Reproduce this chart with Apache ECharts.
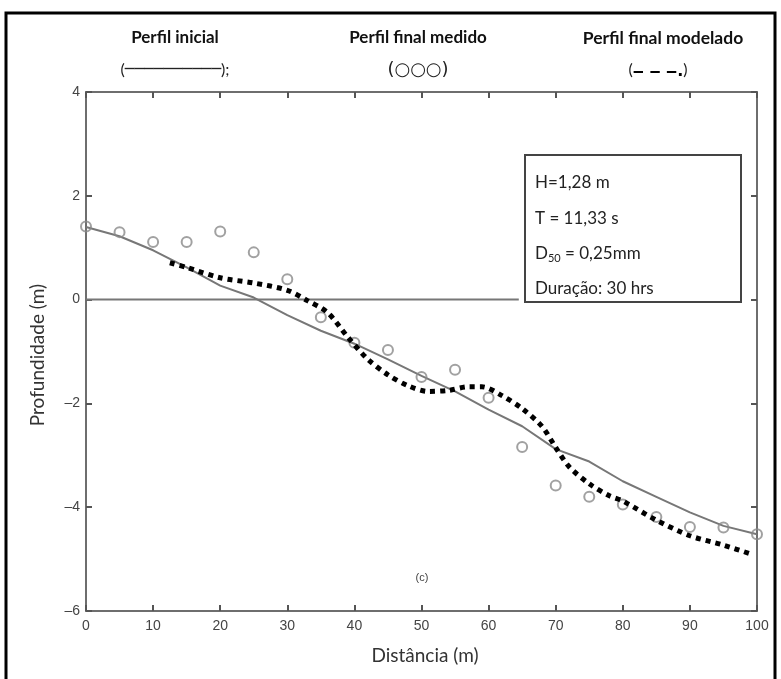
<!DOCTYPE html>
<html>
<head>
<meta charset="utf-8">
<script src="https://cdn.jsdelivr.net/npm/echarts@6/dist/echarts.min.js"></script>
<style>
  html, body { margin: 0; padding: 0; background: #fff; }
  #chart { width: 781px; height: 679px; }
</style>
</head>
<body>
<div id="chart"></div>
<script>
// distancias (m)
var distancias = [0, 5, 10, 15, 20, 25, 30, 35, 40, 45, 50, 55, 60, 65, 70, 75, 80, 85, 90, 95, 100];
// perfil inicial (linha continua)
var perfilInicial = [1.4, 1.22, 0.95, 0.62, 0.27, 0.04, -0.3, -0.6, -0.85, -1.15, -1.47, -1.77, -2.12, -2.44, -2.88, -3.12, -3.5, -3.8, -4.1, -4.36, -4.52];
// perfil final medido (circulos)
var perfilMedido = [1.41, 1.3, 1.11, 1.11, 1.31, 0.91, 0.39, -0.34, -0.83, -0.97, -1.49, -1.35, -1.89, -2.84, -3.58, -3.8, -3.95, -4.19, -4.38, -4.39, -4.52];
// perfil final modelado (pontilhado)
var distModelado = [12.5, 15, 20, 25, 30, 33, 36, 39, 42, 45, 48, 51, 54, 57, 59, 62, 65, 68, 70, 72, 75, 78, 80, 85, 90, 95, 99.5];
var perfilModelado = [0.71, 0.62, 0.42, 0.32, 0.18, -0.02, -0.25, -0.72, -1.15, -1.45, -1.66, -1.77, -1.75, -1.68, -1.68, -1.85, -2.1, -2.45, -2.85, -3.22, -3.55, -3.78, -3.88, -4.25, -4.55, -4.73, -4.92];
// linha do nivel zero
var nivelZeroX = [0, 64.5];
var nivelZeroY = [0, 0];

function pares(xs, ys) {
  return xs.map(function (x, i) { return [x, ys[i]]; });
}

var myChart = echarts.init(document.getElementById('chart'));

var corEixo = '#6e6e6e';
function eixo(extra) {
  return Object.assign({
    axisLine: { show: true, onZero: false, lineStyle: { color: corEixo, width: 2 } },
    axisTick: { show: true, inside: true, length: 6, lineStyle: { color: '#555', width: 2 } },
    splitLine: { show: false }
  }, extra);
}

var option = {
  animation: false,
  backgroundColor: '#fff',
  grid: { left: 86, right: 24, top: 92, bottom: 68 },
  xAxis: [
    eixo({
      type: 'value', min: 0, max: 100, interval: 10, position: 'bottom',
      axisLabel: { color: '#444', fontFamily: 'Liberation Sans', fontSize: 14, margin: 8 }
    }),
    eixo({
      type: 'value', min: 0, max: 100, interval: 10, position: 'top',
      axisLabel: { show: false }
    })
  ],
  yAxis: [
    eixo({
      type: 'value', min: -6, max: 4, interval: 2, position: 'left',
      axisLabel: { color: '#444', fontFamily: 'Liberation Sans', fontSize: 14, margin: 6,
        formatter: function (v) { return String(v).replace('-', '\u2013'); } }
    }),
    eixo({
      type: 'value', min: -6, max: 4, interval: 2, position: 'right',
      axisLabel: { show: false }
    })
  ],
  series: [
    {
      name: 'Nivel zero',
      type: 'line',
      data: pares(nivelZeroX, nivelZeroY),
      symbol: 'none',
      lineStyle: { color: '#777', width: 2 },
      z: 1
    },
    {
      name: 'Perfil inicial',
      type: 'line',
      data: pares(distancias, perfilInicial),
      symbol: 'none',
      lineStyle: { color: '#777', width: 2 },
      z: 2
    },
    {
      name: 'Perfil final medido',
      type: 'scatter',
      data: pares(distancias, perfilMedido),
      symbol: 'circle',
      symbolSize: 10,
      itemStyle: { color: 'rgba(255,255,255,0)', borderColor: '#8a8a8a', borderWidth: 2 },
      z: 3
    },
    {
      name: 'Perfil final modelado',
      type: 'line',
      data: pares(distModelado, perfilModelado),
      symbol: 'none',
      smooth: 0.3,
      lineStyle: { color: '#000', width: 5, type: [5, 5], cap: 'butt' },
      z: 4
    }
  ],
  graphic: [
    // moldura externa
    { type: 'rect', shape: { x: 6, y: 13, width: 769, height: 700 },
      style: { fill: 'none', stroke: '#000', lineWidth: 3 }, z: 100 },
    // legenda em texto
    { type: 'text', x: 175, y: 38, style: { text: 'Perfil inicial', font: 'bold 17px Lato', fill: '#111', align: 'center', verticalAlign: 'middle' } },
    { type: 'text', x: 418, y: 38, style: { text: 'Perfil final medido', font: 'bold 17px Lato', fill: '#111', align: 'center', verticalAlign: 'middle' } },
    { type: 'text', x: 663, y: 38, style: { text: 'Perfil final modelado', font: 'bold 17.5px Lato', fill: '#111', align: 'center', verticalAlign: 'middle' } },
    { type: 'text', x: 175, y: 70, style: {
        text: '{p|(}{l|\u2500\u2500\u2500\u2500\u2500\u2500\u2500\u2500\u2500\u2500}{p|);}',
        align: 'center', verticalAlign: 'middle',
        rich: {
          p: { font: '16px Lato', fill: '#222' },
          l: { font: '16px "DejaVu Sans"', fill: '#222' }
        }
      } },
    { type: 'text', x: 418, y: 70, style: { text: '(\u25CB\u25CB\u25CB)', font: '18px "DejaVu Sans"', fill: '#222', align: 'center', verticalAlign: 'middle' } },
    { type: 'text', x: 658, y: 70, style: {
        text: '{p|(}{d|\u2012 \u2012 \u2012.}{p|)}',
        align: 'center', verticalAlign: 'middle',
        rich: {
          p: { font: '16px Lato', fill: '#222' },
          d: { font: 'bold 16px "DejaVu Sans"', fill: '#000', padding: [4, 0, 0, 0] }
        }
      } },
    // caixa de parametros
    { type: 'rect', shape: { x: 525, y: 155, width: 216, height: 147 },
      style: { fill: '#fff', stroke: '#444', lineWidth: 2 }, z: 50 },
    { type: 'text', x: 535, y: 183, z: 51, style: { text: 'H=1,28 m', font: '17px Lato', fill: '#222', verticalAlign: 'middle' } },
    { type: 'text', x: 535, y: 219, z: 51, style: { text: 'T = 11,33 s', font: '17px Lato', fill: '#222', verticalAlign: 'middle' } },
    { type: 'text', x: 535, y: 254, z: 51, style: {
        text: '{n|D}{s|50}{n| = 0,25mm}', verticalAlign: 'middle',
        rich: {
          n: { font: '17px Lato', fill: '#222' },
          s: { font: '11px Lato', fill: '#222', padding: [8, 0, 0, 0] }
        }
      } },
    { type: 'text', x: 535, y: 289, z: 51, style: { text: 'Dura\u00e7\u00e3o: 30 hrs', font: '17px Lato', fill: '#222', verticalAlign: 'middle' } },
    // rotulo (c)
    { type: 'text', x: 422, y: 578, style: { text: '(c)', font: '11px "Liberation Sans"', fill: '#444', align: 'center', verticalAlign: 'middle' } },
    // titulos dos eixos
    { type: 'text', x: 425, y: 656, style: { text: 'Dist\u00e2ncia (m)', font: '19px Lato', fill: '#333', align: 'center', verticalAlign: 'middle' } },
    { type: 'text', x: 38, y: 355, rotation: Math.PI / 2, style: { text: 'Profundidade (m)', font: '19px Lato', fill: '#333', align: 'center', verticalAlign: 'middle' } }
  ]
};

myChart.setOption(option);
</script>
</body>
</html>
